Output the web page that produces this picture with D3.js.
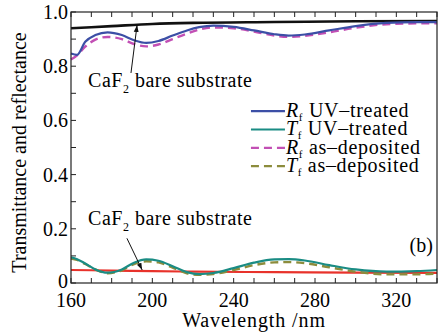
<!DOCTYPE html>
<html>
<head>
<meta charset="utf-8">
<script src="https://cdn.jsdelivr.net/npm/d3@7"></script>
<style>
  body { margin: 0; background: #fff; }
</style>
</head>
<body>
<div id="chart"></div>
<script>
// film curves share one wavelength grid
var wavelength = [160,163,167,172,178,185,191,197,203,210,217,223,230,240,250,260,267,275,287,300,315,330,340];
var rfUV  = [0.847,0.842,0.890,0.915,0.925,0.915,0.896,0.886,0.893,0.913,0.932,0.944,0.950,0.945,0.932,0.918,0.913,0.917,0.932,0.948,0.960,0.963,0.963];
var tfUV  = [0.095,0.088,0.072,0.050,0.038,0.050,0.075,0.087,0.082,0.062,0.040,0.033,0.037,0.055,0.075,0.087,0.088,0.083,0.066,0.050,0.042,0.044,0.048];
var rfDep = [0.825,0.840,0.872,0.898,0.908,0.900,0.882,0.873,0.880,0.900,0.920,0.935,0.943,0.940,0.928,0.913,0.908,0.912,0.925,0.942,0.955,0.958,0.958];
var tfDep = [0.090,0.085,0.070,0.050,0.036,0.047,0.070,0.080,0.076,0.057,0.036,0.030,0.033,0.048,0.066,0.076,0.077,0.073,0.058,0.042,0.032,0.032,0.035];

// bare CaF2 substrate
var subWl = [160,180,200,220,260,300,340];
var subHigh = [0.940,0.948,0.956,0.960,0.963,0.966,0.967];
var subLow  = [0.048,0.046,0.044,0.042,0.040,0.038,0.037];

var xTicks = [160,200,240,280,320];
var yTicks = [0,0.2,0.4,0.6,0.8,1.0];

var FONT = "'Liberation Serif'";

var margin = {top: 12, right: 2, bottom: 52, left: 71},
    width = 439 - margin.left - margin.right,
    height = 335 - margin.top - margin.bottom;

var svg = d3.select("#chart").append("svg")
    .attr("width", 439)
    .attr("height", 335)
  .append("g")
    .attr("transform", "translate(" + margin.left + "," + margin.top + ")");

var x = d3.scaleLinear().domain([160, 340]).range([0, width]);
var y = d3.scaleLinear().domain([0, 1]).range([height, 0]);

// ticks inside the frame
var minorX = d3.range(160, 341, 10);
var minorY = d3.range(0, 1.01, 0.1);

svg.append("g").selectAll("line").data(minorX).enter().append("line")
    .attr("x1", function(d) { return x(d); }).attr("x2", function(d) { return x(d); })
    .attr("y1", height).attr("y2", height - 5)
    .attr("stroke", "#222").attr("stroke-width", 1);
svg.append("g").selectAll("line").data(minorX).enter().append("line")
    .attr("x1", function(d) { return x(d); }).attr("x2", function(d) { return x(d); })
    .attr("y1", 0).attr("y2", 5)
    .attr("stroke", "#222").attr("stroke-width", 1);
svg.append("g").selectAll("line").data(minorY).enter().append("line")
    .attr("x1", 0).attr("x2", 5)
    .attr("y1", function(d) { return y(d); }).attr("y2", function(d) { return y(d); })
    .attr("stroke", "#222").attr("stroke-width", 1);

// tick labels
svg.append("g").selectAll("text").data(xTicks).enter().append("text")
    .attr("x", function(d) { return x(d); })
    .attr("y", height + 24)
    .attr("text-anchor", "middle")
    .style("font-family", FONT)
    .style("font-size", "20px")
    .text(function(d) { return d; });
svg.append("g").selectAll("text").data(yTicks).enter().append("text")
    .attr("x", -3)
    .attr("y", function(d) { return y(d) + (d === 0 ? 5 : 7); })
    .attr("text-anchor", "end")
    .style("font-family", FONT)
    .style("font-size", "20px")
    .text(function(d) { return d === 0 ? "0" : d3.format(".1f")(d); });

// axis titles
svg.append("text")
    .attr("x", x(250))
    .attr("y", height + 44)
    .attr("text-anchor", "middle")
    .style("font-family", FONT)
    .style("font-size", "20px")
    .style("letter-spacing", "0.9px")
    .text("Wavelength /nm");
svg.append("text")
    .attr("transform", "translate(-45," + (y(0.5) + 5) + ") rotate(-90)")
    .attr("text-anchor", "middle")
    .style("font-family", FONT)
    .style("font-size", "20px")
    .text("Transmittance and reflectance");

// curves
var line = d3.line()
    .x(function(d) { return x(d[0]); })
    .y(function(d) { return y(d[1]); })
    .curve(d3.curveMonotoneX);

function pairs(xs, ys) { return xs.map(function(v, i) { return [v, ys[i]]; }); }

var series = [
  {name: "subHigh", xs: subWl, ys: subHigh, color: "#111", w: 2.6, dash: null},
  {name: "subLow", xs: subWl, ys: subLow, color: "#e8322b", w: 2.2, dash: null},
  {name: "tfDep", xs: wavelength, ys: tfDep, color: "#8c8c3c", w: 2.4, dash: "8,5"},
  {name: "tfUV", xs: wavelength, ys: tfUV, color: "#1a8c84", w: 2.2, dash: null},
  {name: "rfDep", xs: wavelength, ys: rfDep, color: "#c24fb4", w: 2.4, dash: "8,5"},
  {name: "rfUV", xs: wavelength, ys: rfUV, color: "#3c4fa6", w: 2.2, dash: null}
];

svg.append("g").selectAll("path").data(series).enter().append("path")
    .attr("d", function(d) { return line(pairs(d.xs, d.ys)); })
    .attr("fill", "none")
    .attr("stroke", function(d) { return d.color; })
    .attr("stroke-width", function(d) { return d.w; })
    .attr("stroke-dasharray", function(d) { return d.dash; });

// frame
svg.append("rect")
    .attr("width", width).attr("height", height)
    .attr("fill", "none").attr("stroke", "#222").attr("stroke-width", 1.2);

// annotations with arrows
svg.append("defs").append("marker")
    .attr("id", "arr")
    .attr("viewBox", "0 0 10 10")
    .attr("refX", 10).attr("refY", 5)
    .attr("markerWidth", 7).attr("markerHeight", 7)
    .attr("orient", "auto")
  .append("path")
    .attr("d", "M0,1.5L10,5L0,8.5z")
    .attr("fill", "#111");

var notes = [
  {tx: 168.4, ty: 0.722, x0: 189.5, y0: 0.775, x1: 192.5, y1: 0.952},
  {tx: 168.4, ty: 0.214, x0: 187.5, y0: 0.165, x1: 195, y1: 0.048}
];

notes.forEach(function(n) {
  var t = svg.append("text")
      .attr("x", x(n.tx)).attr("y", y(n.ty))
      .style("font-family", FONT)
      .style("font-size", "20px")
      .style("letter-spacing", "0.5px");
  t.append("tspan").text("CaF");
  t.append("tspan").attr("dy", 6).style("font-size", "12px").text("2");
  t.append("tspan").attr("dy", -6).text(" bare substrate");
  svg.append("line")
      .attr("x1", x(n.x0)).attr("y1", y(n.y0))
      .attr("x2", x(n.x1)).attr("y2", y(n.y1))
      .attr("stroke", "#111").attr("stroke-width", 1)
      .attr("marker-end", "url(#arr)");
});

// legend
var legendItems = [
  {sym: "R", label: "UV\u2013treated", color: "#3c4fa6", dash: null},
  {sym: "T", label: "UV\u2013treated", color: "#1a8c84", dash: null},
  {sym: "R", label: "as\u2013deposited", color: "#c24fb4", dash: "8,5"},
  {sym: "T", label: "as\u2013deposited", color: "#8c8c3c", dash: "8,5"}
];

var legend = svg.append("g")
    .attr("transform", "translate(" + x(248.5) + "," + (y(0.634)) + ")");

var row = legend.selectAll("g").data(legendItems).enter().append("g")
    .attr("transform", function(d, i) { return "translate(0," + (i * 18.3) + ")"; });

row.append("line")
    .attr("x1", 0).attr("x2", 34)
    .attr("stroke", function(d) { return d.color; })
    .attr("stroke-width", 2.2)
    .attr("stroke-dasharray", function(d) { return d.dash; });

var lt = row.append("text")
    .attr("x", 35).attr("y", 6)
    .style("font-family", FONT)
    .style("font-size", "20px")
    .style("letter-spacing", "0.7px");
lt.append("tspan").style("font-style", "italic").text(function(d) { return d.sym; });
lt.append("tspan").attr("dy", 4).style("font-size", "11px").text("f");
lt.append("tspan").attr("dy", -4).text(function(d) { return " " + d.label; });

// panel label
svg.append("text")
    .attr("x", x(338)).attr("y", y(0.114))
    .attr("text-anchor", "end")
    .style("font-family", FONT)
    .style("font-size", "20px")
    .text("(b)");
</script>
</body>
</html>
